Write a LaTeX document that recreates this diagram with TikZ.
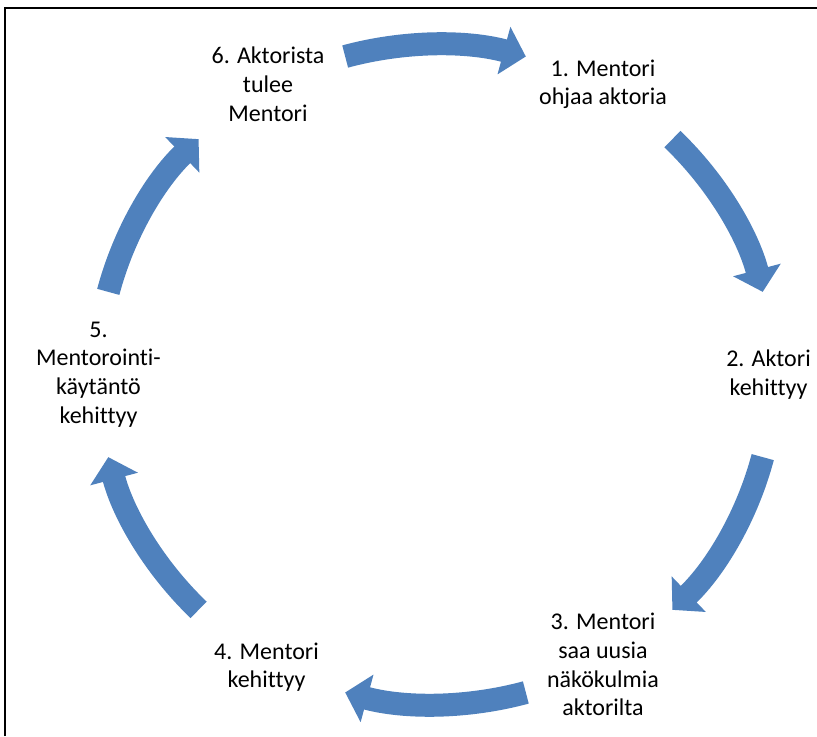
\documentclass[tikz,border=0pt]{standalone}
\usepackage{fontspec}
\setmainfont[Ligatures={NoCommon,NoRare}]{Carlito}
\usepackage{tikz}
\usetikzlibrary{arrows.meta}
\definecolor{kierto}{HTML}{4F81BD}

\begin{document}
\begin{tikzpicture}[
font=\fontsize{18}{21.5}\selectfont,
x=0.75pt, y=0.75pt,
vaihe/.style={align=center, inner sep=0pt},
kaari/.style={line width=17.25pt, color=kierto, -{Triangle[width=36pt,length=17pt]}}]
    % Frame
    \useasboundingbox (0,0) rectangle (817,736);
    \draw[line width=1.5pt] (5,0) |- (817,728);
    \coordinate (c) at (435.5,361.5);

    % Steps
    \node[vaihe] (v1) at ([shift={(60:335)}]c) {1. Mentori\\ohjaa aktoria};
    \node[vaihe] (v2) at ([shift={(0:333)}]c) {2. Aktori\\kehittyy};
    \node[vaihe] (v3) at ([shift={(-60:335)}]c) {3. Mentori\\saa uusia\\näkökulmia\\aktorilta};
    \node[vaihe] (v4) at ([shift={(-120:338)}]c) {4. Mentori\\kehittyy};
    \node[vaihe] (v5) at ([shift={(180:337)}]c) {5.\\Mentorointi-\\käytäntö\\kehittyy};
    \node[vaihe] (v6) at ([shift={(120:335)}]c) {6. Aktorista\\tulee\\Mentori};

    % Arrows
    \coordinate (k61) at ([shift={(105.5:338 and 330)}]c);
    \coordinate (k12) at ([shift={(45.5:338 and 330)}]c);
    \coordinate (k23) at ([shift={(-14.5:338 and 330)}]c);
    \coordinate (k34) at ([shift={(-74.5:338 and 330)}]c);
    \coordinate (k45) at ([shift={(-134.5:338 and 330)}]c);
    \coordinate (k56) at ([shift={(165.5:338 and 330)}]c);
    \draw[kaari] (k61) arc[start angle=105.5, end angle=74.5, x radius=338, y radius=330];
    \draw[kaari] (k12) arc[start angle=45.5, end angle=14.5, x radius=338, y radius=330];
    \draw[kaari] (k23) arc[start angle=-14.5, end angle=-45.5, x radius=338, y radius=330];
    \draw[kaari] (k34) arc[start angle=-74.5, end angle=-105.5, x radius=338, y radius=330];
    \draw[kaari] (k45) arc[start angle=-134.5, end angle=-165.5, x radius=338, y radius=330];
    \draw[kaari] (k56) arc[start angle=165.5, end angle=134.5, x radius=338, y radius=330];
\end{tikzpicture}
\end{document}
